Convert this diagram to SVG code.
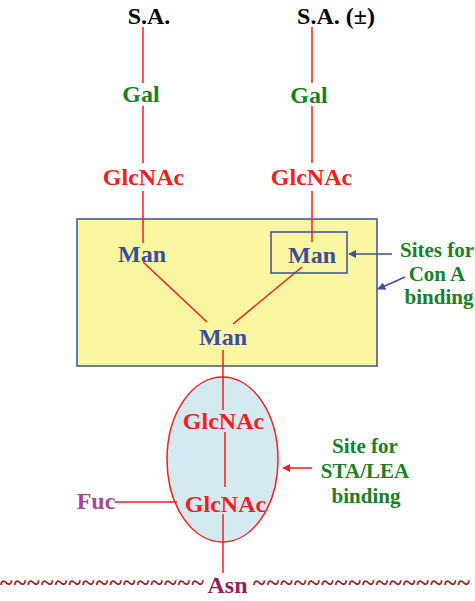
<svg xmlns="http://www.w3.org/2000/svg" width="475" height="601" viewBox="0 0 475 601">
<style>
text{font-family:'Liberation Serif','Times New Roman',serif;font-weight:bold;text-anchor:middle}
.r{fill:#ff1a1a}.g{fill:#1a8026}.b{fill:#3b4f9e}.k{fill:#000}
.f{font-size:24px}
.s{font-size:21px}
.tl{font-size:24px;text-anchor:start;fill:#9b1b1b}
.ln{stroke:#ff1a1a;stroke-width:1.5;fill:none}
.bl{stroke:#3b4f9e;stroke-width:1.5;fill:none}
</style>
<defs>
<marker id="ab" viewBox="0 0 10 10" refX="9" refY="5" markerWidth="8" markerHeight="8" markerUnits="userSpaceOnUse" orient="auto"><path d="M0,0L10,5L0,10z" fill="#3b4f9e"/></marker>
<marker id="ar" viewBox="0 0 10 10" refX="9" refY="5" markerWidth="8" markerHeight="8" markerUnits="userSpaceOnUse" orient="auto"><path d="M0,0L10,5L0,10z" fill="#ff1a1a"/></marker>
</defs>
<g id="conA-region"><rect x="77" y="219" width="300" height="147" fill="#faf6a2" stroke="#3b4f9e" stroke-width="1.5"/></g>
<g id="sta-region"><ellipse cx="222.5" cy="459.5" rx="55.5" ry="82.5" fill="#d4eaf1" stroke="#ff1a1a" stroke-width="1.5"/></g>
<g id="connectors">
<line class="ln" x1="143" y1="27" x2="143" y2="83"/>
<line class="ln" x1="143" y1="106" x2="143" y2="163"/>
<line class="ln" x1="143" y1="191" x2="143" y2="243"/>
<line class="ln" x1="312" y1="27" x2="312" y2="83"/>
<line class="ln" x1="312" y1="106" x2="312" y2="163"/>
<line class="ln" x1="312" y1="191" x2="312" y2="242"/>
<line class="ln" x1="143" y1="262" x2="207" y2="322"/>
<line class="ln" x1="302" y1="267" x2="233" y2="324"/>
<line class="ln" x1="223" y1="350" x2="223" y2="410"/>
<line class="ln" x1="225" y1="432" x2="225" y2="487"/>
<line class="ln" x1="223" y1="514" x2="223" y2="573"/>
<line class="ln" x1="115" y1="502" x2="177" y2="502"/>
<line class="bl" x1="392" y1="254" x2="349" y2="254" marker-end="url(#ab)"/>
<line class="bl" x1="405" y1="277" x2="378" y2="289" marker-end="url(#ab)"/>
<line class="ln" x1="312" y1="468" x2="283" y2="468" marker-end="url(#ar)"/>
</g>
<g id="sa-left"><text class="k f" x="149" y="24">S.A.</text></g>
<g id="sa-right"><text class="k f" x="336" y="24">S.A. (±)</text></g>
<g id="gal-left"><text class="g f" x="141" y="102">Gal</text></g>
<g id="gal-right"><text class="g f" x="309" y="103">Gal</text></g>
<g id="glcnac-left"><text class="r f" x="143.5" y="185">GlcNAc</text></g>
<g id="glcnac-right"><text class="r f" x="311.5" y="185">GlcNAc</text></g>
<g id="man-left"><text class="b f" x="142" y="262">Man</text></g>
<g id="man-right"><rect x="271" y="232" width="76" height="41" fill="none" stroke="#3b4f9e" stroke-width="1.5"/><text class="b f" x="312" y="263">Man</text></g>
<g id="man-core"><text class="b f" x="223" y="345">Man</text></g>
<g id="glcnac-core1"><text class="r f" x="223.5" y="429">GlcNAc</text></g>
<g id="glcnac-core2"><text class="r f" x="225.5" y="512">GlcNAc</text></g>
<g id="fuc"><text class="f" x="96" y="509" fill="#a8489a">Fuc</text></g>
<g id="asn"><text class="f" x="227.5" y="593" fill="#8e2458">Asn</text>
<text class="tl" x="0" y="590" textLength="204" lengthAdjust="spacing">~~~~~~~~~~~~~~~</text>
<text class="tl" x="253" y="590" textLength="217" lengthAdjust="spacing">~~~~~~~~~~~~~~~~</text></g>
<g id="label-conA"><text class="g s" x="437" y="257">Sites for</text><text class="g s" x="437" y="281">Con A</text><text class="g s" x="439" y="304">binding</text></g>
<g id="label-sta"><text class="g s" x="365" y="453">Site for</text><text class="g s" x="365" y="478">STA/LEA</text><text class="g s" x="366" y="503">binding</text></g>
</svg>
